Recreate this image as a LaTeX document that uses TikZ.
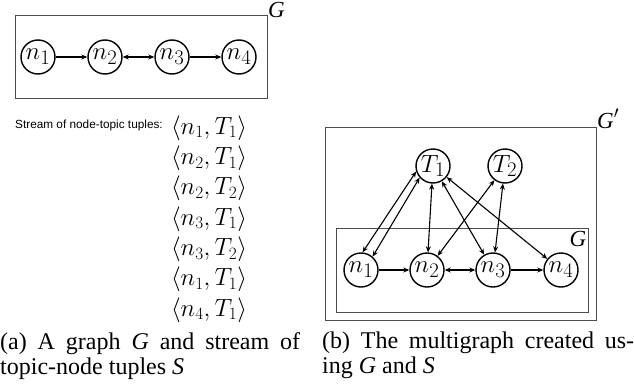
\documentclass[tikz,border=0pt]{standalone}
\usepackage{fontspec}
\setmainfont{Liberation Serif}
\newfontfamily\labelsans{Liberation Sans}
\usetikzlibrary{arrows.meta}

\begin{document}
\begin{tikzpicture}[x=1pt,y=-1pt,
  vertex/.style={circle,draw,line width=1.4pt,minimum size=34pt,inner sep=0pt,
                 font=\fontsize{28}{28}\selectfont},
  edge/.style={line width=1.1pt,-{Stealth[length=6pt,width=5pt]}},
  biedge/.style={line width=1.1pt,{Stealth[length=6pt,width=5pt]}-{Stealth[length=6pt,width=5pt]}},
  frame/.style={draw=black!70,line width=1pt},
  glabel/.style={font=\fontsize{23}{23}\selectfont\itshape,inner sep=0pt},
  tuple/.style={font=\fontsize{27}{27}\selectfont,inner sep=0pt},
  caption/.style={font=\fontsize{24}{25}\selectfont,inner sep=0pt,align=justify,anchor=north west}]
\useasboundingbox (0,0) rectangle (634,383);

% ---- (a) the graph G ----
\draw[frame] (15,15) rectangle (267,98);
\node[glabel,anchor=base west] (ga) at (268,17) {G};
\node[vertex] (a1) at (38,57) {$n_1$};
\node[vertex] (a2) at (105,57) {$n_2$};
\node[vertex] (a3) at (172,57) {$n_3$};
\node[vertex] (a4) at (239,57) {$n_4$};
\draw[edge] (a1) -- (a2);
\draw[biedge] (a2) -- (a3);
\draw[edge] (a3) -- (a4);

% ---- (a) stream of tuples ----
\node[anchor=west,inner sep=0pt,font=\labelsans\fontsize{11.8}{12}\selectfont] (st) at (15,125) {Stream of node-topic tuples:};
\foreach \a/\b [count=\i from 0] in {1/1,2/1,2/2,3/1,3/2,1/1,4/1}
  \node[tuple] (tp\i) at (209,128+30.3*\i) {$\langle n_{\a}, T_{\b}\rangle$};

% ---- (b) the multigraph ----
\draw[frame] (325,127) rectangle (596,320);
\node[glabel,anchor=base west] (gp) at (597,128) {G$'$};
\draw[frame] (336,228) rectangle (588,312);
\node[glabel] (gb) at (578,239) {G};
\node[vertex] (b1) at (361,270) {$n_1$};
\node[vertex] (b2) at (427,270) {$n_2$};
\node[vertex] (b3) at (493,270) {$n_3$};
\node[vertex] (b4) at (561,270) {$n_4$};
\node[vertex] (t1) at (433,166) {$T_1$};
\node[vertex] (t2) at (505,166) {$T_2$};
\draw[edge] (b1) -- (b2);
\draw[biedge] (b2) -- (b3);
\draw[edge] (b3) -- (b4);
\draw[biedge] (b1.85) -- (t1.198);
\draw[biedge] (b1.49) -- (t1.221);
\draw[biedge] (t1) -- (b2);
\draw[biedge] (t1) -- (b3);
\draw[biedge] (t1) -- (b4);
\draw[biedge] (t2) -- (b2);
\draw[biedge] (t2) -- (b3);

% ---- captions ----
\node[caption,text width=300pt] (capa) at (0,332) {(a) A graph \textit{G} and stream of\linebreak topic-node tuples \textit{S}};
\node[caption,text width=312pt] (capb) at (322,332) {(b) The multigraph created us-\linebreak ing \textit{G} and \textit{S}};
\end{tikzpicture}
\end{document}
